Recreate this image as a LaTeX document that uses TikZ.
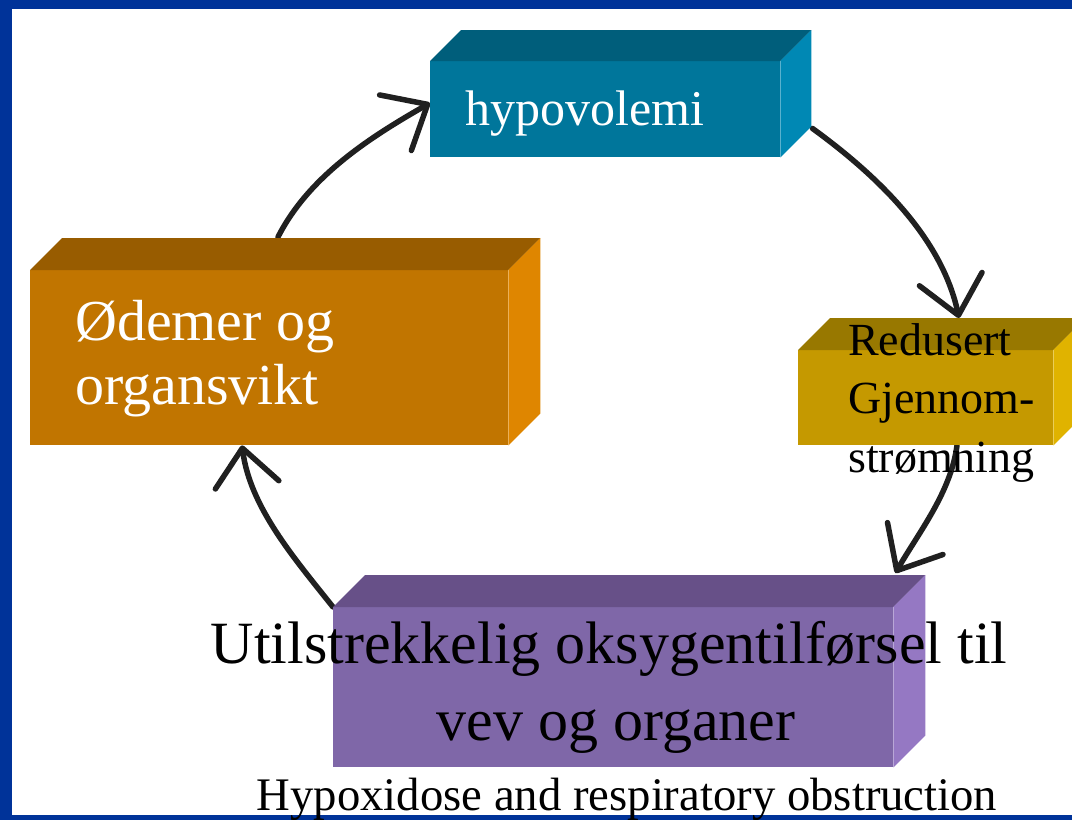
\documentclass[tikz,border=0pt]{standalone}
\usepackage{fontspec}
\setmainfont{Liberation Serif}
\usetikzlibrary{arrows.meta,calc}
\definecolor{frameblue}{HTML}{003399}
\definecolor{hypofront}{HTML}{00769B}
\definecolor{hypotop}{HTML}{005E7B}
\definecolor{hyporight}{HTML}{0088B4}
\definecolor{orfront}{HTML}{C17500}
\definecolor{ortop}{HTML}{985C00}
\definecolor{orright}{HTML}{DF8600}
\definecolor{goldfront}{HTML}{C59900}
\definecolor{goldtop}{HTML}{987800}
\definecolor{goldright}{HTML}{E0B300}
\definecolor{purfront}{HTML}{7F67A8}
\definecolor{purtop}{HTML}{675088}
\definecolor{purright}{HTML}{9578C3}
\definecolor{arrowink}{HTML}{202020}
\newcommand\cuboidfaces[4]{%
  \fill[#3] (#1.north west) -- ++(#2,-#2) -- ($(#1.north east)+(#2,-#2)$) -- (#1.north east) -- cycle;
  \fill[#4] (#1.north east) -- ++(#2,-#2) -- ($(#1.south east)+(#2,-#2)$) -- (#1.south east) -- cycle;}
\tikzset{
  frontface/.style={rectangle, inner sep=0pt, anchor=north west, fill=#1, draw=none},
  cyclearrow/.style={draw=arrowink, line width=5.5pt, line cap=round,
    -{Straight Barb[length=37pt, width=64pt, round]}},
  lbl/.style={inner sep=0pt, anchor=base west},
  lblc/.style={inner sep=0pt, anchor=base},
}
\begin{document}
\begin{tikzpicture}[x=1pt,y=-1pt]
\useasboundingbox (0,0) rectangle (1072,820);
\fill[white] (0,0) rectangle (1072,820);
% frame
\fill[frameblue] (0,0) rectangle (12,820);
\fill[frameblue] (0,0) rectangle (1072,9);
\fill[frameblue] (0,815) rectangle (1072,820);

% box front faces
\node[frontface=hypofront, minimum width=350pt, minimum height=96pt] (hypo) at (430,61) {};
\node[frontface=goldfront, minimum width=255pt, minimum height=95pt] (gold) at (798,350) {};
\node[frontface=purfront, minimum width=560pt, minimum height=160pt] (purple) at (333,607) {};
\node[frontface=orfront, minimum width=478pt, minimum height=175pt] (orange) at (30,270) {};

% arrows
\draw[cyclearrow] ($(hypo.south east)+(32,-29)$) .. controls (878,176) and (942,238) .. ($(gold.north west)+(161,-32)$);
\draw[cyclearrow] ($(gold.south west)+(159,0)$) .. controls (951,492) and (919,532) .. ($(purple.north east)+(2,-34)$);
\draw[cyclearrow] (purple.north west) .. controls (294,558) and (250,507) .. ($(orange.south west)+(212,0)$);
\draw[cyclearrow] ($(orange.north west)+(248,-33)$) .. controls (309,176) and (370.5,137) .. ($(hypo.north west)+(0,42)$);

% redraw fronts over arrow ends, then 3D faces
\fill[hypofront] (hypo.north west) rectangle (hypo.south east);
\fill[goldfront] (gold.north west) rectangle (gold.south east);
\fill[purfront] (purple.north west) rectangle (purple.south east);
\fill[orfront] (orange.north west) rectangle (orange.south east);
\cuboidfaces{hypo}{31}{hypotop}{hyporight}
\cuboidfaces{gold}{32}{goldtop}{goldright}
\cuboidfaces{purple}{32}{purtop}{purright}
\cuboidfaces{orange}{32}{ortop}{orright}

% texts
\node[lbl, text=white, font=\fontsize{50}{60}\selectfont] (thypo) at (465,125) {hypovolemi};
\node[lbl, text=white, font=\fontsize{58}{68}\selectfont] (tor1) at (75,340) {Ødemer og};
\node[lbl, text=white, font=\fontsize{58}{68}\selectfont] (tor2) at (75,404) {organsvikt};
\node[lbl, text=black, font=\fontsize{46}{56}\selectfont] (tgo1) at (848,355) {Redusert};
\node[lbl, text=black, font=\fontsize{46}{56}\selectfont] (tgo2) at (848,413) {Gjennom-};
\node[lbl, text=black, font=\fontsize{46}{56}\selectfont] (tgo3) at (848,472) {strømning};
\node[lblc, text=black, font=\fontsize{60}{72}\selectfont] (tpu1) at (609,663) {Utilstrekkelig oksygentilførsel til};
\node[lblc, text=black, font=\fontsize{60}{72}\selectfont] (tpu2) at (616,740) {vev og organer};
\node[lblc, text=black, font=\fontsize{46.7}{56}\selectfont] (thyp) at (627,810) {Hypoxidose and respiratory obstruction};
\end{tikzpicture}
\end{document}
